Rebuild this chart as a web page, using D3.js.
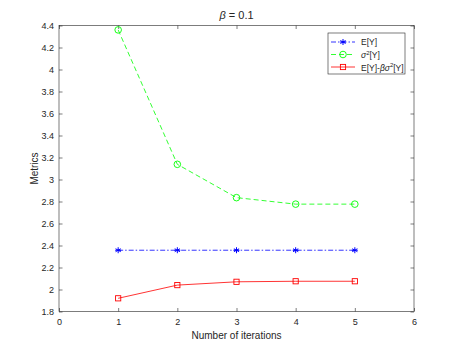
<!DOCTYPE html>
<html lang="en">
<head>
<meta charset="UTF-8">
<title>beta = 0.1</title>
<style>
    body { margin: 0; background: #fff; }
    text { font-family: "Liberation Sans", Arial, sans-serif; fill: #262626; }
</style>
</head>
<body>
<svg id="chart"></svg>
<script src="https://d3js.org/d3.v7.min.js"></script>
<script>
    // data
    const iterations = [1, 2, 3, 4, 5];
    const meanY = [2.357, 2.357, 2.357, 2.357, 2.357];
    const varY = [4.36, 3.138, 2.835, 2.776, 2.776];
    const riskY = [1.92, 2.04, 2.07, 2.075, 2.075];
    const xTicks = [0, 1, 2, 3, 4, 5, 6];
    const yTicks = [1.8, 2, 2.2, 2.4, 2.6, 2.8, 3, 3.2, 3.4, 3.6, 3.8, 4, 4.2, 4.4];

    const W = 457, H = 351;
    const margin = { top: 25.5, right: 43, bottom: 39.5, left: 59 };
    const width = W - margin.left - margin.right;
    const height = H - margin.top - margin.bottom;

    const svg = d3.select("#chart").attr("width", W).attr("height", H);
    const g = svg.append("g").attr("transform", "translate(" + margin.left + "," + margin.top + ")");

    const x = d3.scaleLinear().domain([0, 6]).range([0, width]);
    const y = d3.scaleLinear().domain([1.8, 4.4]).range([height, 0]);

    const axisColor = "#262626";
    function styleAxis(sel) {
        sel.select(".domain").remove();
        sel.selectAll(".tick line").attr("stroke", axisColor).attr("stroke-width", 0.6);
        sel.selectAll(".tick text").attr("font-size", "9px").style("fill", axisColor);
    }

    // axes (ticks inward, box on)
    g.append("g").attr("transform", "translate(0," + height + ")")
        .call(d3.axisBottom(x).tickValues(xTicks).tickFormat(d3.format("d")).tickSizeInner(-3.5).tickPadding(7))
        .call(styleAxis);
    g.append("g").call(d3.axisTop(x).tickValues(xTicks).tickSizeInner(-3.5).tickFormat(""))
        .call(styleAxis);
    g.append("g")
        .call(d3.axisLeft(y).tickValues(yTicks).tickFormat(d3.format("")).tickSizeInner(-3.5).tickPadding(5))
        .call(styleAxis);
    g.append("g").attr("transform", "translate(" + width + ",0)")
        .call(d3.axisRight(y).tickValues(yTicks).tickSizeInner(-3.5).tickFormat(""))
        .call(styleAxis);

    g.append("rect").attr("width", width).attr("height", height)
        .attr("fill", "none").attr("stroke", axisColor).attr("stroke-width", 0.6);

    // series
    const series = [
        { vals: meanY, color: "#0000ff", dash: "5,2,1.5,2", marker: "star" },
        { vals: varY, color: "#00ff00", dash: "5,3", marker: "circle" },
        { vals: riskY, color: "#ff0000", dash: null, marker: "square" }
    ];

    const line = d3.line().x(d => x(d[0])).y(d => y(d[1]));

    function drawMarker(sel, type, color) {
        if (type === "circle") {
            sel.append("circle").attr("r", 3.3).attr("fill", "none").attr("stroke", color).attr("stroke-width", 0.9);
        } else if (type === "square") {
            sel.append("rect").attr("x", -2.6).attr("y", -2.6).attr("width", 5.2).attr("height", 5.2)
                .attr("fill", "none").attr("stroke", color).attr("stroke-width", 0.9);
        } else {
            const r = 3;
            [0, 60, 120].forEach(a => {
                const rad = a * Math.PI / 180;
                sel.append("line")
                    .attr("x1", -r * Math.sin(rad)).attr("y1", -r * Math.cos(rad))
                    .attr("x2", r * Math.sin(rad)).attr("y2", r * Math.cos(rad))
                    .attr("stroke", color).attr("stroke-width", 1);
            });
            sel.append("line").attr("x1", -r).attr("x2", r).attr("y1", 0).attr("y2", 0)
                .attr("stroke", color).attr("stroke-width", 1);
        }
    }

    series.forEach(s => {
        const pts = iterations.map((it, i) => [it, s.vals[i]]);
        g.append("path").datum(pts)
            .attr("d", line)
            .attr("fill", "none").attr("stroke", s.color).attr("stroke-width", 0.8)
            .attr("stroke-dasharray", s.dash);
        pts.forEach(p => {
            const m = g.append("g").attr("transform", "translate(" + x(p[0]) + "," + y(p[1]) + ")");
            drawMarker(m, s.marker, s.color);
        });
    });

    // title
    const title = svg.append("text").attr("x", margin.left + width / 2).attr("y", 19)
        .attr("text-anchor", "middle").attr("font-size", "11px");
    title.append("tspan").attr("font-style", "italic").text("β");
    title.append("tspan").text(" = 0.1");

    // axis labels
    svg.append("text").attr("x", margin.left + width / 2).attr("y", 339)
        .attr("text-anchor", "middle").attr("font-size", "10px").text("Number of iterations");
    svg.append("text").attr("transform", "translate(38," + (margin.top + height / 2) + ") rotate(-90)")
        .attr("text-anchor", "middle").attr("font-size", "10px").text("Metrics");

    // legend
    const lg = svg.append("g").attr("transform", "translate(328,33)");
    lg.append("rect").attr("width", 77).attr("height", 41)
        .attr("fill", "#fff").attr("stroke", axisColor).attr("stroke-width", 0.6);
    const rowsY = [9, 21.5, 34];
    series.forEach((s, i) => {
        const yy = rowsY[i];
        lg.append("line").attr("x1", 3).attr("x2", 27).attr("y1", yy).attr("y2", yy)
            .attr("stroke", s.color).attr("stroke-width", 0.8).attr("stroke-dasharray", s.dash);
        const m = lg.append("g").attr("transform", "translate(15," + yy + ")");
        drawMarker(m, s.marker, s.color);
    });
    lg.append("text").attr("x", 33).attr("y", rowsY[0] + 3).attr("font-size", "8.5px").text("E[Y]");
    const t2 = lg.append("text").attr("x", 33).attr("y", rowsY[1] + 3.5).attr("font-size", "8.5px");
    t2.append("tspan").attr("font-style", "italic").text("σ");
    t2.append("tspan").attr("font-size", "6px").attr("dy", -3.5).text("2");
    t2.append("tspan").attr("dy", 3.5).text("[Y]");
    const t3 = lg.append("text").attr("x", 33).attr("y", rowsY[2] + 3.5).attr("font-size", "8.5px");
    t3.append("tspan").text("E[Y]-");
    t3.append("tspan").attr("font-style", "italic").text("βσ");
    t3.append("tspan").attr("font-size", "6px").attr("dy", -3.5).text("2");
    t3.append("tspan").attr("dy", 3.5).text("[Y]");
</script>
</body>
</html>
